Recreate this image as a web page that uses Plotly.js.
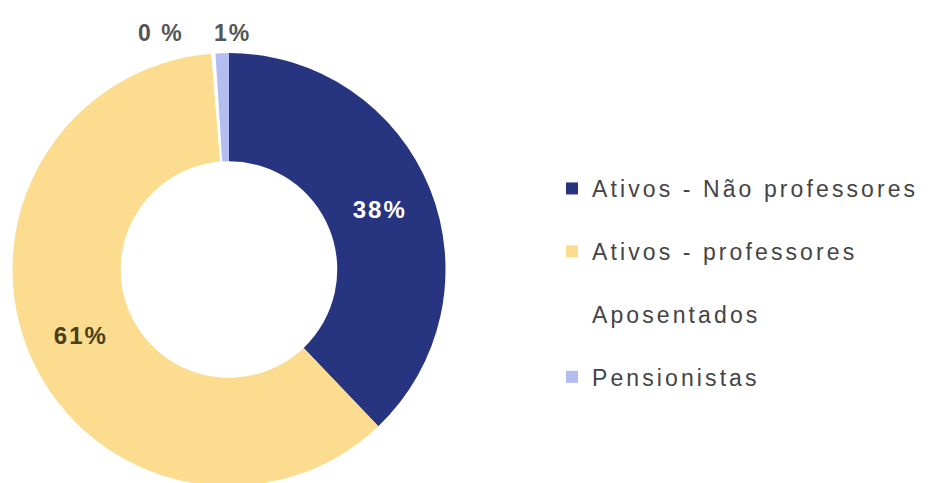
<!DOCTYPE html>
<html>
<head>
<meta charset="utf-8">
<script src="https://cdn.plot.ly/plotly-3.0.1.min.js"></script>
<style>
  html, body { margin: 0; padding: 0; background: #fff; overflow: hidden; }
  #chart { width: 938px; height: 500px; }
  .legendtext { letter-spacing: 3.1px; }
  .slicetext, .annotation-text { letter-spacing: 2px; }
</style>
</head>
<body>
<div id="chart"></div>
<script>
// Data
const categories = ["Ativos - Não professores", "Ativos - professores", "Aposentados", "Pensionistas"];
const values = [38, 61, 0.3, 1];
const pctLabels = ["38%", "61%", "0 %", "1%"];
const colors = ["#27347f", "#fcdc8e", "#ffffff", "#b3bdf0"];
const textColors = ["#ffffff", "#4a3f1c", "#555555", "#555555"];

const W = 938, H = 500;
const px = (x) => x / W;
const py = (y) => 1 - y / H;

const trace = {
  type: "pie",
  labels: categories.map(c => c + "<br>&nbsp;"),
  values: values,
  text: pctLabels.map((t, i) => (i < 2 ? t : "")),
  textinfo: "text",
  textposition: "inside",
  insidetextorientation: "horizontal",
  hole: 0.5,
  sort: false,
  direction: "clockwise",
  rotation: 0,
  marker: { colors: colors, line: { width: 0 } },
  textfont: { family: "Liberation Sans, Arial, sans-serif", size: 24, color: textColors, weight: "bold" },
  domain: { x: [px(12), px(446)], y: [py(486), py(53)] },
  hoverinfo: "label+percent"
};

const annotations = [2, 3].map((i, k) => ({
  text: pctLabels[i],
  xref: "paper", yref: "paper",
  x: px(k === 0 ? 161 : 232), y: py(33),
  showarrow: false,
  xanchor: "center", yanchor: "middle",
  font: { family: "Liberation Sans, Arial, sans-serif", size: 23, color: "#555555", weight: "bold" }
}));

const layout = {
  width: W, height: H,
  margin: { l: 0, r: 0, t: 0, b: 0 },
  paper_bgcolor: "#ffffff",
  showlegend: true,
  legend: {
    x: px(552), y: py(167), xanchor: "left", yanchor: "top",
    valign: "top",
    itemwidth: 30,
    font: { family: "Liberation Sans, Arial, sans-serif", size: 23, color: "#444444" },
    bgcolor: "rgba(0,0,0,0)"
  },
  annotations: annotations
};

Plotly.newPlot("chart", [trace], layout, { displayModeBar: false, staticPlot: true });
</script>
</body>
</html>
